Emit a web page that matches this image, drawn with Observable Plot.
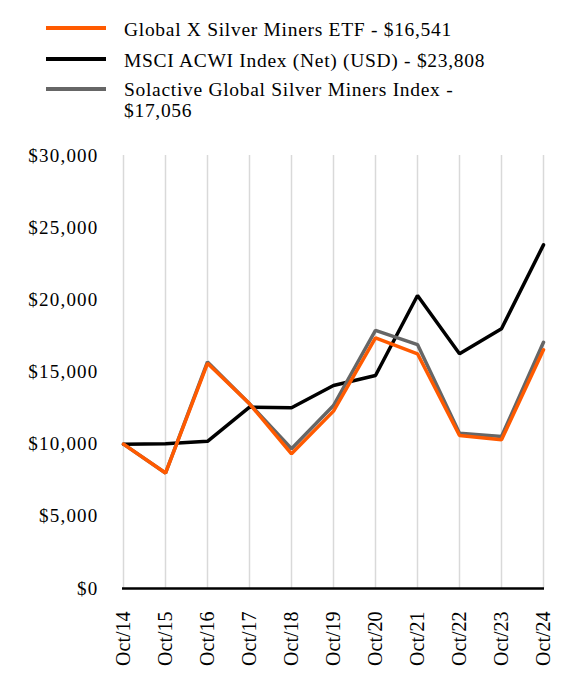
<!DOCTYPE html>
<html>
<head>
<meta charset="utf-8">
<script src="https://cdn.jsdelivr.net/npm/d3@7"></script>
<script src="https://cdn.jsdelivr.net/npm/@observablehq/plot@0.6"></script>
<style>
  html, body { margin: 0; padding: 0; background: #fff; }
  body { width: 564px; height: 696px; position: relative; font-family: "Liberation Serif", "Times New Roman", serif; color: #000; }
  .legend { position: absolute; left: 0; top: 0; width: 564px; height: 130px; }
  .swatch { position: absolute; left: 46px; width: 60px; height: 4px; }
  .label { position: absolute; left: 124px; width: 385px; font-size: 19.5px; line-height: 21.3px; letter-spacing: 0.7px; }
  #chart { position: absolute; left: 0; top: 130px; }
  #chart svg text.ylab { letter-spacing: 1.2px; }
</style>
</head>
<body>
<div class="legend" id="legend"></div>
<div id="chart"></div>
<script>
const periods = ["Oct/14","Oct/15","Oct/16","Oct/17","Oct/18","Oct/19","Oct/20","Oct/21","Oct/22","Oct/23","Oct/24"];
const etfValues = [10000, 8000, 15600, 12800, 9330, 12290, 17370, 16260, 10600, 10300, 16541];
const acwiValues = [10000, 10030, 10200, 12560, 12520, 14070, 14760, 20300, 16260, 18000, 23808];
const solactiveValues = [10000, 8000, 15700, 12800, 9680, 12680, 17880, 16900, 10760, 10530, 17056];
const seriesNames = ["Global X Silver Miners ETF - $16,541", "MSCI ACWI Index (Net) (USD) - $23,808", "Solactive Global Silver Miners Index - $17,056"];
const seriesColors = ["#FF5A00", "#000000", "#666666"];
const yTicks = [0, 5000, 10000, 15000, 20000, 25000, 30000];

// legend
const legend = document.getElementById("legend");
const labelTops = [19, 49.6, 79];
const swatchTops = [26.3, 57.3, 87.3];
seriesNames.forEach((name, i) => {
  const sw = document.createElement("div");
  sw.className = "swatch";
  sw.style.background = seriesColors[i];
  sw.style.top = swatchTops[i] + "px";
  const lab = document.createElement("div");
  lab.className = "label";
  lab.style.top = labelTops[i] + "px";
  lab.textContent = name;
  legend.appendChild(sw);
  legend.appendChild(lab);
});

const allSeries = [etfValues, acwiValues, solactiveValues];
const drawOrder = [1, 2, 0];
const data = [];
drawOrder.forEach(si => {
  periods.forEach((p, j) => data.push({period: p, value: allSeries[si][j], series: seriesNames[si]}));
});

const chart = Plot.plot({
  width: 564,
  height: 566,
  marginTop: 25,
  marginBottom: 108,
  marginLeft: 122,
  marginRight: 20,
  style: { fontFamily: "'Liberation Serif', 'Times New Roman', serif", fontSize: "19px", color: "#000", background: "#fff" },
  x: { type: "point", domain: periods, padding: 0, label: null },
  y: { domain: [0, 30000], label: null },
  color: { domain: seriesNames, range: seriesColors },
  marks: [
    Plot.ruleX(periods, { stroke: "#d9d9d9", strokeWidth: 1.5 }),
    Plot.axisY({ ticks: yTicks, tickFormat: d => "$" + d3.format(",")(d), tickSize: 0, tickPadding: 24, fontSize: 19, label: null }),
    Plot.axisX({ tickSize: 0, tickRotate: -90, tickPadding: 23, fontSize: 20, label: null }),
    Plot.ruleY([0], { stroke: "#000", strokeWidth: 2.5 }),
    Plot.line(data, { x: "period", y: "value", z: "series", stroke: "series", strokeWidth: 3.5, strokeLinejoin: "miter" })
  ]
});
document.getElementById("chart").appendChild(chart);
chart.querySelectorAll("text").forEach(t => {
  if (t.textContent.trim().startsWith("$")) t.classList.add("ylab");
});
</script>
</body>
</html>
